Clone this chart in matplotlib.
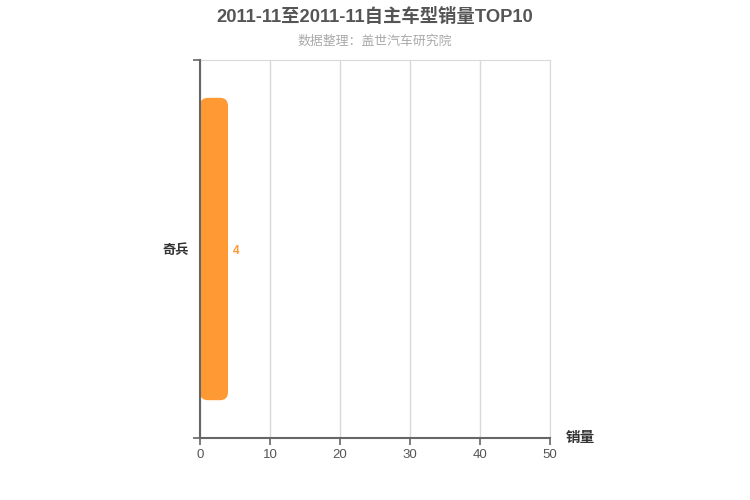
import matplotlib
matplotlib.use('Agg')
import matplotlib.pyplot as plt
from matplotlib.patches import FancyBboxPatch

plt.rcParams['font.family'] = ['Liberation Sans', 'Noto Sans CJK SC', 'DejaVu Sans']

# data
models = ['奇兵']
sales = [4]
xticks = [0, 10, 20, 30, 40, 50]

title = '2011-11至2011-11自主车型销量TOP10'
subtitle = '数据整理：盖世汽车研究院'

fig = plt.figure(figsize=(7.5, 5), dpi=100)
ax = fig.add_axes([200/750, 1-438/500, 350/750, 378/500])

ax.set_xlim(0, 50)
ax.set_ylim(-0.5, len(models)-0.5)

bars = ax.barh(range(len(models)), sales, height=0.8, color='#ff9933')

# swap plain bars for rounded ones (radius ~8 px)
fig.canvas.draw()
px_x = ax.transData.transform((1, 0))[0] - ax.transData.transform((0, 0))[0]
px_y = ax.transData.transform((0, 1))[1] - ax.transData.transform((0, 0))[1]
aspect = px_x / px_y
r = 8 / px_x
for b in bars:
    b.set_visible(False)
    patch = FancyBboxPatch((b.get_x(), b.get_y()), b.get_width(), b.get_height(),
                           boxstyle=f'round,pad=0,rounding_size={r}',
                           mutation_aspect=aspect, facecolor='#ff9933',
                           edgecolor='none', zorder=3)
    ax.add_patch(patch)

for i, v in enumerate(sales):
    ax.text(v + 0.75, i - 0.006, str(v), color='#ff9933', fontsize=8.5, fontweight='bold',
            ha='left', va='center')

# axes styling
ax.set_xticks(xticks)
ax.tick_params(axis='x', colors='#666666', labelcolor='#555555', labelsize=9.5,
               length=5, width=1.2, pad=3)
ax.set_yticks(range(len(models)))
ax.set_yticklabels(models, fontsize=9.5, fontweight='bold', color='#333333')
ax.tick_params(axis='y', length=0, pad=8)
ax.set_yticks([-0.5, len(models)-0.5], minor=True)
ax.tick_params(axis='y', which='minor', length=5, width=1.2, color='#666666')

ax.grid(axis='x', color='#d9d9d9', linewidth=1)
ax.set_axisbelow(True)
ax.spines['left'].set_color('#666666')
ax.spines['left'].set_linewidth(1.5)
ax.spines['bottom'].set_color('#666666')
ax.spines['bottom'].set_linewidth(1.5)
ax.spines['left'].set_zorder(4)
ax.spines['top'].set_color('#d9d9d9')
ax.spines['right'].set_color('#d9d9d9')

ax.text(1.045, 0, '销量', transform=ax.transAxes, fontsize=10.5, fontweight='bold',
        color='#333333', ha='left', va='center')

fig.text(0.5, 1-17/500, title, ha='center', va='center', fontsize=13.2,
         fontweight='bold', color='#555555')
fig.text(0.5, 1-41/500, subtitle, ha='center', va='center', fontsize=9.3,
         color='#aaaaaa')

fig.savefig('out.png', dpi=100, facecolor='white')
